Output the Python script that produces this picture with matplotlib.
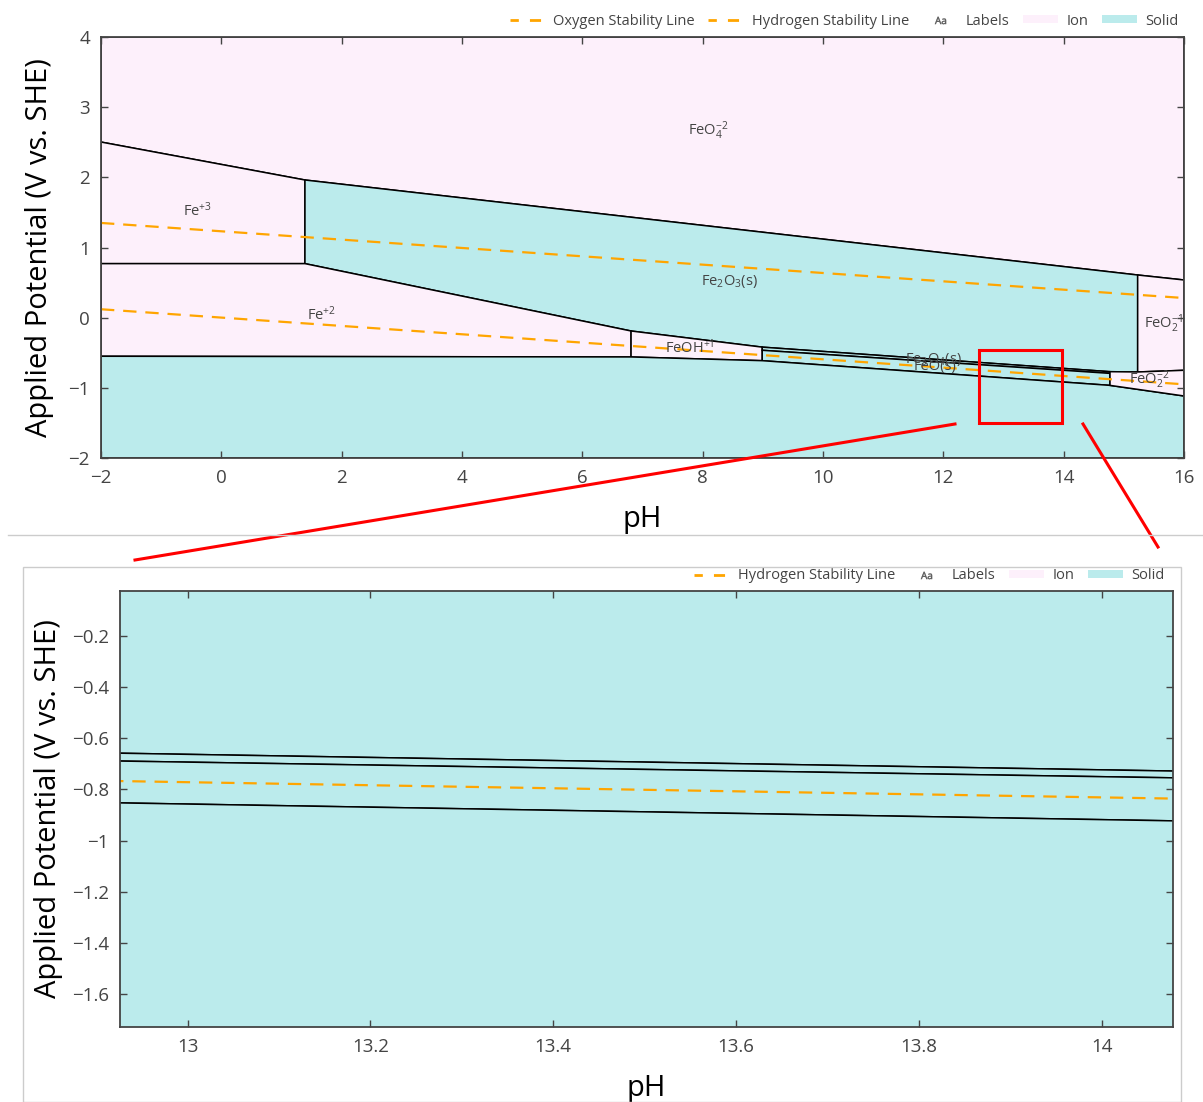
import matplotlib.pyplot as plt
from matplotlib.patches import Polygon, Patch, Rectangle
from matplotlib.lines import Line2D

plt.rcParams['font.family'] = ['Open Sans', 'DejaVu Sans']
plt.rcParams['mathtext.fontset'] = 'custom'
plt.rcParams['mathtext.rm'] = 'Open Sans'
plt.rcParams['mathtext.it'] = 'Open Sans'
plt.rcParams['mathtext.default'] = 'regular'

# region vertices (pH, V)
feo4_ph = [-2, 16, 16, 15.23, 1.39, -2]
feo4_v = [4, 4, 0.537, 0.608, 1.962, 2.503]
fe3_ph = [-2, 1.39, 1.39, -2]
fe3_v = [2.503, 1.962, 0.77, 0.77]
fe2o3_ph = [1.39, 15.23, 15.23, 14.77, 8.99, 6.81, 1.39]
fe2o3_v = [1.962, 0.608, -0.774, -0.77, -0.42, -0.19, 0.77]
fe2_ph = [-2, 1.39, 6.81, 6.81, -2]
fe2_v = [0.77, 0.77, -0.19, -0.56, -0.55]
feoh_ph = [6.81, 8.99, 8.99, 6.81]
feoh_v = [-0.19, -0.42, -0.613, -0.56]
fe3o4_ph = [8.99, 14.77, 14.77, 8.99]
fe3o4_v = [-0.42, -0.77, -0.794, -0.465]
feo_ph = [8.99, 14.77, 14.77, 8.99]
feo_v = [-0.465, -0.794, -0.965, -0.613]
fe_ph = [-2, 6.81, 8.99, 14.77, 16, 16, -2]
fe_v = [-0.55, -0.56, -0.613, -0.965, -1.116, -2, -2]
feo2_ph = [15.23, 16, 16, 15.23]
feo2_v = [0.608, 0.537, -0.75, -0.774]
feo22_ph = [14.77, 15.23, 16, 16, 14.77]
feo22_v = [-0.77, -0.774, -0.75, -1.116, -0.965]

regions = [
    (feo4_ph, feo4_v, 'ion'),
    (fe3_ph, fe3_v, 'ion'),
    (fe2o3_ph, fe2o3_v, 'solid'),
    (fe2_ph, fe2_v, 'ion'),
    (feoh_ph, feoh_v, 'ion'),
    (fe3o4_ph, fe3o4_v, 'solid'),
    (feo_ph, feo_v, 'solid'),
    (fe_ph, fe_v, 'solid'),
    (feo2_ph, feo2_v, 'ion'),
    (feo22_ph, feo22_v, 'ion'),
]

# labels
label_text = ['FeO$_4^{-2}$', 'Fe$^{+3}$', 'Fe$_2$O$_3$(s)', 'Fe$^{+2}$', 'FeOH$^{+1}$',
              'Fe$_3$O$_4$(s)', 'FeO(s)', 'FeO$_2^{-1}$', 'FeO$_2^{-2}$']
label_ph = [8.1, -0.4, 8.45, 1.67, 7.79, 11.83, 11.86, 15.66, 15.43]
label_v = [2.67, 1.53, 0.52, 0.04, -0.43, -0.60, -0.70, -0.09, -0.89]

# water stability lines
line_ph = [-2, 16]
oxygen_v = [1.35, 0.28]
hydrogen_v = [0.12, -0.95]

colors = {'ion': '#fdf0fb', 'solid': '#bbebec'}
orange = '#ffa500'
axis_col = '#444444'

W, H = 1203, 1102
fig = plt.figure(figsize=(W / 100, H / 100), dpi=100)
ax1 = fig.add_axes([101 / W, 1 - 458 / H, 1083 / W, 421 / H])
ax2 = fig.add_axes([120 / W, 1 - 1027 / H, 1053 / W, 436 / H])


def draw(ax, show_oxygen, show_labels):
    for ph, v, kind in regions:
        ax.add_patch(Polygon(list(zip(ph, v)), closed=True, facecolor=colors[kind],
                             edgecolor='black', linewidth=1.1, zorder=1))
    if show_oxygen:
        ax.plot(line_ph, oxygen_v, color=orange, lw=1.6, ls=(0, (6, 4)), zorder=3)
    ax.plot(line_ph, hydrogen_v, color=orange, lw=1.6, ls=(0, (6, 4)), zorder=3)
    if show_labels:
        for t, x, y in zip(label_text, label_ph, label_v):
            ax.text(x, y, t, fontsize=10.5, color='#444444', ha='center', va='center', zorder=4)
    for s in ax.spines.values():
        s.set_color(axis_col)
        s.set_linewidth(1.3)
        s.set_zorder(5)
    ax.tick_params(direction='in', top=True, right=True, length=5, width=1,
                   color=axis_col, labelcolor=axis_col, labelsize=13.5, pad=8)
    ax.set_xlabel('pH', fontsize=21, labelpad=13)
    ax.set_ylabel('Applied Potential (V vs. SHE)', fontsize=21, labelpad=10)


draw(ax1, True, True)
ax1.set_xlim(-2, 16)
ax1.set_ylim(-2, 4)
ax1.set_xticks(range(-2, 17, 2))
ax1.set_xticklabels([str(t).replace('-', '\u2212') for t in range(-2, 17, 2)])
ax1.set_yticks(range(-2, 5))
ax1.set_yticklabels([str(t).replace('-', '\u2212') for t in range(-2, 5)])

draw(ax2, False, False)
ax2.set_xlim(12.926, 14.078)
ax2.set_ylim(-1.729, -0.024)
xt = [13, 13.2, 13.4, 13.6, 13.8, 14]
ax2.set_xticks(xt)
ax2.set_xticklabels(['13', '13.2', '13.4', '13.6', '13.8', '14'])
yt = [-0.2, -0.4, -0.6, -0.8, -1, -1.2, -1.4, -1.6]
ax2.set_yticks(yt)
ax2.set_yticklabels(['\u22120.2', '\u22120.4', '\u22120.6', '\u22120.8', '\u22121',
                     '\u22121.2', '\u22121.4', '\u22121.6'])
ax2.yaxis.labelpad = 6

# legends
h_oxy = Line2D([], [], color=orange, lw=2, ls=(1, (4, 4)))
h_hyd = Line2D([], [], color=orange, lw=2, ls=(1, (4, 4)))
h_lab = Line2D([], [], marker='$Aa$', ls='none', color='#555555', markersize=8, markeredgewidth=0.3)
h_ion = Patch(facecolor=colors['ion'], edgecolor='none')
h_sol = Patch(facecolor=colors['solid'], edgecolor='none')
leg_kw = dict(loc='center right', ncol=5, frameon=False, fontsize=10.5, handlelength=2.4,
              handleheight=0.5, columnspacing=0.9, handletextpad=0.6, borderaxespad=0,
              borderpad=0, labelcolor='#444444')
ax1.legend([h_oxy, h_hyd, h_lab, h_ion, h_sol],
           ['Oxygen Stability Line', 'Hydrogen Stability Line', 'Labels', 'Ion', 'Solid'],
           bbox_to_anchor=(0.995, (458 - 21) / 421), **leg_kw)
ax2.legend([h_hyd, h_lab, h_ion, h_sol],
           ['Hydrogen Stability Line', 'Labels', 'Ion', 'Solid'],
           bbox_to_anchor=(0.992, (1027 - 576) / 436), **leg_kw)

# zoom box and connector lines
ax1.add_patch(Rectangle((12.59, -1.501), 1.38, 1.04, fill=False, edgecolor='red',
                        linewidth=2.2, zorder=6, clip_on=False))
fig.add_artist(Line2D([955 / W, 135 / W], [1 - 424 / H, 1 - 560 / H], color='red', lw=2.2))
fig.add_artist(Line2D([1083 / W, 1158 / W], [1 - 424 / H, 1 - 547 / H], color='red', lw=2.2))

# panel separators
fig.add_artist(Line2D([8 / W, 1], [1 - 535 / H, 1 - 535 / H], color='#cccccc', lw=1))
fig.add_artist(Rectangle((23 / W, 0), (1181 - 23) / W, 1 - 567 / H, fill=False,
                         edgecolor='#cccccc', lw=1, transform=fig.transFigure))

fig.savefig('out.png', dpi=100)
